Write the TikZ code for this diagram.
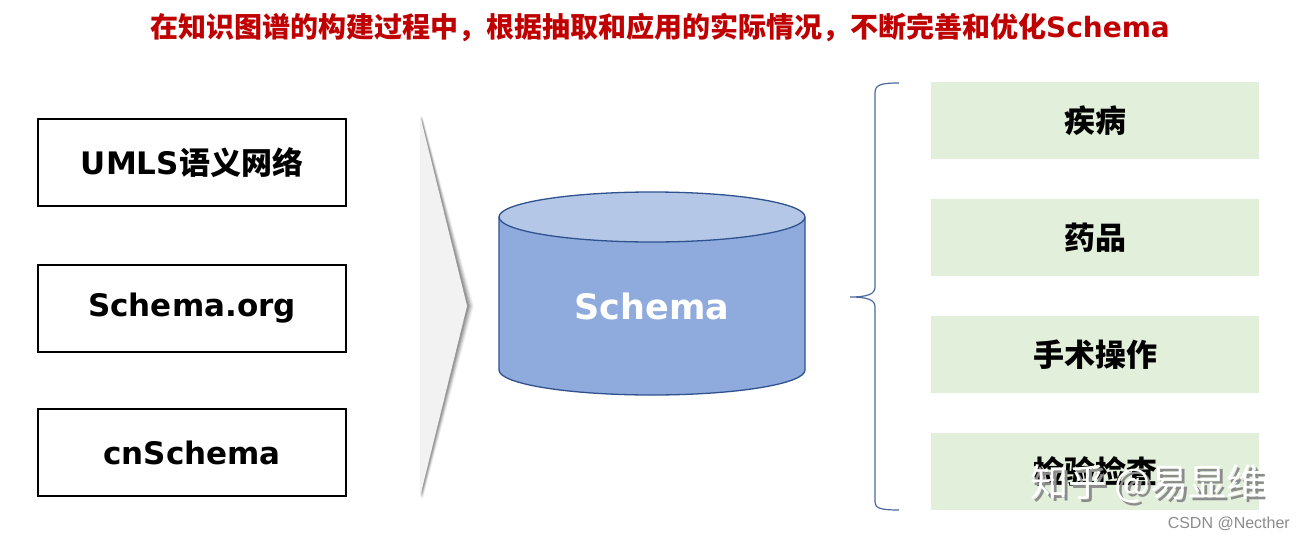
\documentclass[tikz,border=0pt]{standalone}
\usepackage{fontspec}
\setmainfont{DejaVu Sans}
\newfontfamily\cjk{Noto Sans CJK SC}
\newfontfamily\lat{DejaVu Sans}
\newfontfamily\wm{Liberation Sans}
\definecolor{titlered}{HTML}{C00000}
\definecolor{chev}{HTML}{F2F2F2}
\definecolor{cylbody}{HTML}{8FAADC}
\definecolor{cyltop}{HTML}{B4C7E7}
\definecolor{cylline}{HTML}{2F528F}
\definecolor{bracec}{HTML}{4A69A3}
\definecolor{greenbox}{HTML}{E2EFDA}
\definecolor{wmgray}{HTML}{8C8C8C}
\tikzset{
  srcbox/.style={draw=black, line width=1.5pt, minimum width=308pt, minimum height=87pt, inner sep=0pt, font=\fontsize{31}{34}\selectfont\bfseries},
  catbox/.style={fill=greenbox, minimum width=328pt, minimum height=77pt, inner sep=0pt, font=\cjk\fontsize{31}{34}\selectfont\bfseries},
}
\begin{document}
\begin{tikzpicture}[x=1pt,y=-1pt]
\useasboundingbox (0,0) rectangle (1305,541);
\fill[white] (0,0) rectangle (1305,541);
% title
\node[text=titlered, inner sep=0pt] (title) at (660,27) {{\cjk\bfseries\fontsize{28}{30}\selectfont 在知识图谱的构建过程中，根据抽取和应用的实际情况，不断完善和优化}{\lat\bfseries\fontsize{28}{30}\selectfont Schema}};
% left boxes
\node[srcbox] (umls) at (192,162.5) {{\lat UMLS}{\cjk\bfseries 语义网络}};
\node[srcbox] (sorg) at (192,308.5) {Schema.org};
\node[srcbox] (cns) at (192,452.5) {cnSchema};
% chevron shadow
\foreach \d/\o in {7/0.04,6/0.06,5/0.07,4/0.09,3/0.1,2/0.12}{
  \fill[black, opacity=\o] (420+\d*0.4,115+\d*0.3) -- (467+\d,306) -- (420+\d*0.4,497+\d*0.3) -- cycle;
}
\fill[chev] (420,115) -- (467,306) -- (420,497) -- cycle;
\coordinate (chevtip) at (467,306);
% cylinder
\fill[cylbody] (499,217) -- (499,370) arc[start angle=180, end angle=0, x radius=153, y radius=25] -- (805,217) -- cycle;
\fill[cyltop] (652,217) ellipse[x radius=153, y radius=25];
\draw[cylline, line width=1.3pt] (499,217) -- (499,370) arc[start angle=180, end angle=0, x radius=153, y radius=25] -- (805,217);
\draw[cylline, line width=1.3pt] (652,217) ellipse[x radius=153, y radius=25];
\node[text=white, font=\lat\bfseries\fontsize{35}{40}\selectfont, inner sep=0pt] (schema) at (652,306) {Schema};
% brace
\coordinate (btop) at (899,83);
\coordinate (bmid) at (850,297);
\coordinate (bbot) at (899,510);
\draw[bracec, line width=1.2pt] (btop) .. controls (880,83) and (875,85) .. (875,93) -- (875,287) .. controls (875,294) and (868,297) .. (bmid) .. controls (868,297) and (875,300) .. (875,307) -- (875,502) .. controls (875,508) and (880,510) .. (bbot);
% right boxes
\node[catbox] (c1) at (1095,120.5) {疾病};
\node[catbox] (c2) at (1095,237.5) {药品};
\node[catbox] (c3) at (1095,354.5) {手术操作};
\node[catbox] (c4) at (1095,471.5) {检验检查};
% watermark
\node[text=wmgray, font=\cjk\fontsize{38}{40}\selectfont, inner sep=0pt, anchor=west] (wms) at (1033,487) {知乎 @易显维};
\node[text=white, font=\cjk\fontsize{38}{40}\selectfont, inner sep=0pt, anchor=west] (wm) at (1030,484) {知乎 @易显维};
\node[text=wmgray, font=\wm\fontsize{16}{18}\selectfont, inner sep=0pt, anchor=east] (csdn) at (1290,524) {CSDN @Necther};
\end{tikzpicture}
\end{document}
